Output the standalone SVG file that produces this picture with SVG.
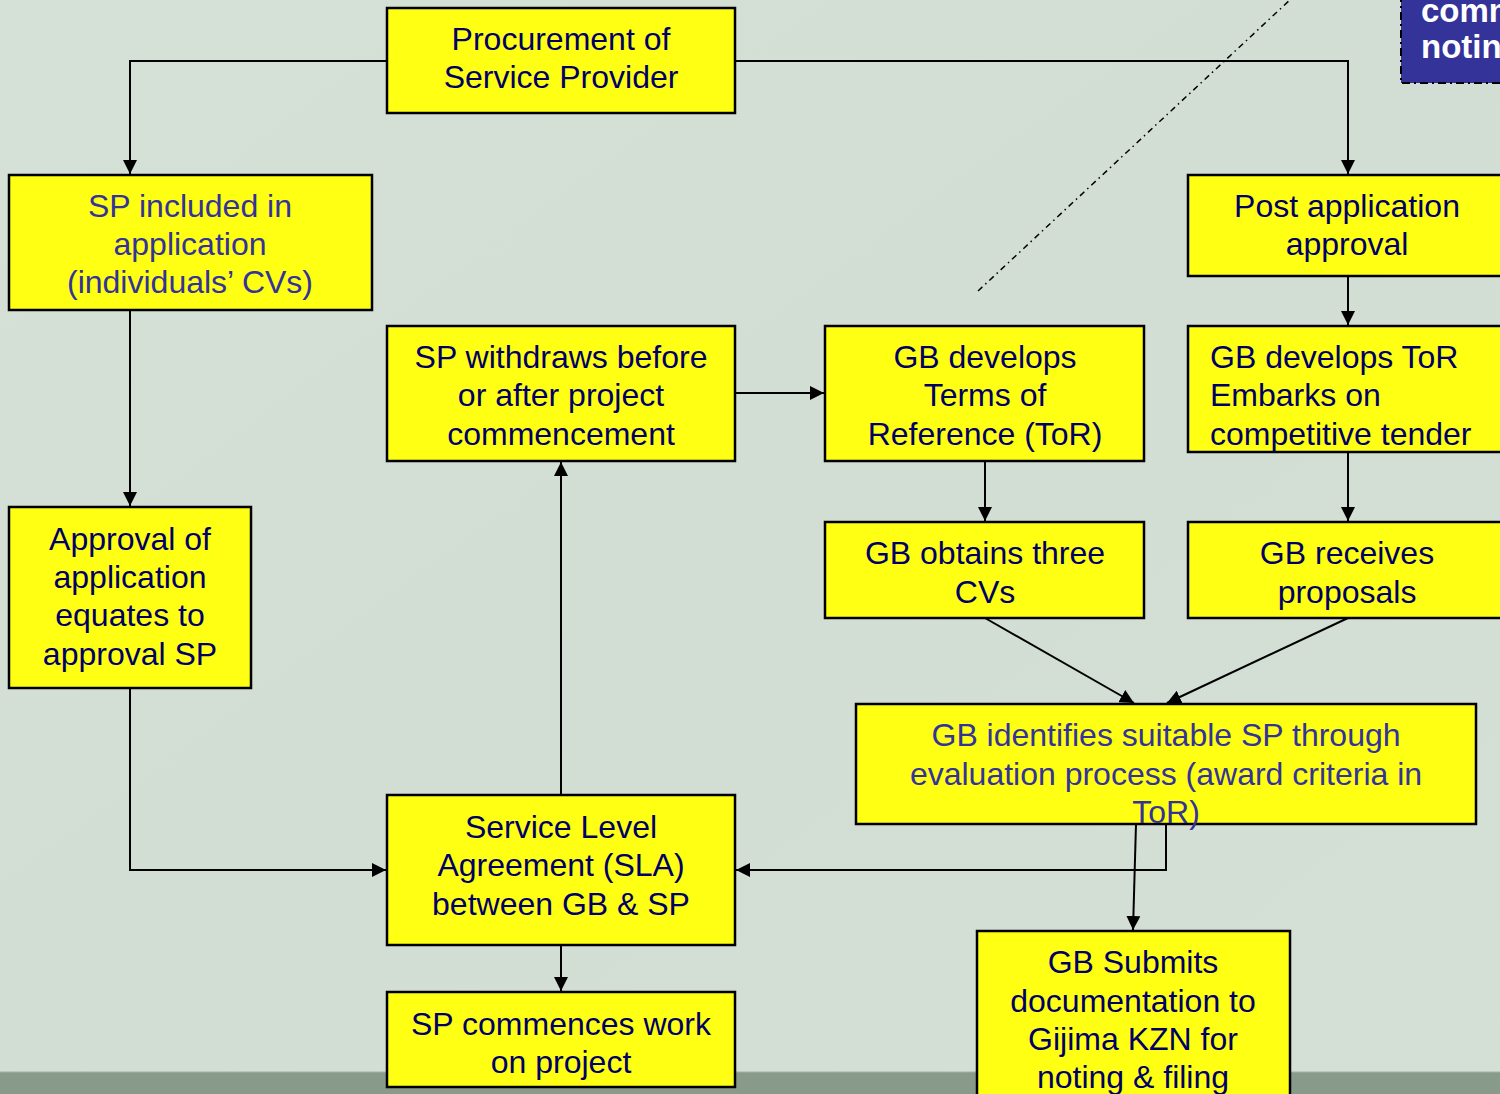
<svg xmlns="http://www.w3.org/2000/svg" width="1500" height="1094" viewBox="0 0 1500 1094">
<defs>
<marker id="ah" viewBox="0 0 14 14" refX="14" refY="7" markerWidth="14" markerHeight="14" markerUnits="userSpaceOnUse" orient="auto">
<path d="M0,0 L14,7 L0,14 Z" fill="#000"/>
</marker>
<linearGradient id="bg" x1="0" y1="0" x2="1" y2="1">
<stop offset="0" stop-color="#d5e0d7"/>
<stop offset="0.5" stop-color="#d2ddd3"/>
<stop offset="1" stop-color="#d4dfd6"/>
</linearGradient>
</defs>
<style>
.box{fill:#ffff14;stroke:#000;stroke-width:2.5}
.t{font-family:"Liberation Sans",Arial,sans-serif;font-size:32px;fill:#000066;text-anchor:middle}
.b{fill:#333399}
.l{text-anchor:start}
.c{fill:none;stroke:#000;stroke-width:2}
.w{font-family:"Liberation Sans",Arial,sans-serif;font-size:33px;font-weight:bold;fill:#fff}
</style>
<rect width="1500" height="1094" fill="url(#bg)"/>
<rect x="0" y="1072" width="1500" height="22" fill="#889a89"/>
<line x1="0" y1="1072" x2="1500" y2="1072" stroke="#a3b3a4" stroke-width="1"/>

<line x1="978" y1="291" x2="1292" y2="-2" stroke="#000" stroke-width="1.5" stroke-dasharray="6,4,1.5,4"/>

<g id="connectors">
<path class="c" d="M387,61 H130 V174" marker-end="url(#ah)"/>
<path class="c" d="M735,61 H1348 V174" marker-end="url(#ah)"/>
<path class="c" d="M1348,276 V325" marker-end="url(#ah)"/>
<path class="c" d="M130,310 V506" marker-end="url(#ah)"/>
<path class="c" d="M130,688 V870 H386" marker-end="url(#ah)"/>
<path class="c" d="M561,795 V462" marker-end="url(#ah)"/>
<path class="c" d="M561,945 V991" marker-end="url(#ah)"/>
<path class="c" d="M735,393 H824" marker-end="url(#ah)"/>
<path class="c" d="M985,461 V521" marker-end="url(#ah)"/>
<path class="c" d="M1348,452 V521" marker-end="url(#ah)"/>
<path class="c" d="M985,618 L1134,703" marker-end="url(#ah)"/>
<path class="c" d="M1348,618 L1167,703" marker-end="url(#ah)"/>
<path class="c" d="M1166,824 V870 H736" marker-end="url(#ah)"/>
<path class="c" d="M1136,824 L1133,930" marker-end="url(#ah)"/>
</g>

<g id="n-notes">
<rect x="1401" y="-10" width="120" height="93" fill="#333399" stroke="#000" stroke-width="2" stroke-dasharray="8,4,2,4"/>
<text class="w" x="1421" y="22">comm</text>
<text class="w" x="1421" y="58">notin</text>
</g>

<g id="n-procurement">
<rect class="box" x="387" y="8" width="348" height="105"/>
<text class="t" x="561" y="50">Procurement of</text>
<text class="t" x="561" y="88">Service Provider</text>
</g>

<g id="n-sp-included">
<rect class="box" x="9" y="175" width="363" height="135"/>
<text class="t b" x="190" y="217">SP included in</text>
<text class="t b" x="190" y="255">application</text>
<text class="t b" x="190" y="293">(individuals’ CVs)</text>
</g>

<g id="n-post-app">
<rect class="box" x="1188" y="175" width="330" height="101"/>
<text class="t" x="1347" y="217">Post application</text>
<text class="t" x="1347" y="255">approval</text>
</g>

<g id="n-withdraws">
<rect class="box" x="387" y="326" width="348" height="135"/>
<text class="t" x="561" y="368">SP withdraws before</text>
<text class="t" x="561" y="406">or after project</text>
<text class="t" x="561" y="445">commencement</text>
</g>

<g id="n-gb-tor">
<rect class="box" x="825" y="326" width="319" height="135"/>
<text class="t" x="985" y="368">GB develops</text>
<text class="t" x="985" y="406">Terms of</text>
<text class="t" x="985" y="445">Reference (ToR)</text>
</g>

<g id="n-gb-tender">
<rect class="box" x="1188" y="326" width="330" height="126"/>
<text class="t l" x="1210" y="368">GB develops ToR</text>
<text class="t l" x="1210" y="406">Embarks on</text>
<text class="t l" x="1210" y="445">competitive tender</text>
</g>

<g id="n-approval">
<rect class="box" x="9" y="507" width="242" height="181"/>
<text class="t" x="130" y="550">Approval of</text>
<text class="t" x="130" y="588">application</text>
<text class="t" x="130" y="626">equates to</text>
<text class="t" x="130" y="665">approval SP</text>
</g>

<g id="n-three-cvs">
<rect class="box" x="825" y="522" width="319" height="96"/>
<text class="t" x="985" y="564">GB obtains three</text>
<text class="t" x="985" y="603">CVs</text>
</g>

<g id="n-proposals">
<rect class="box" x="1188" y="522" width="330" height="96"/>
<text class="t" x="1347" y="564">GB receives</text>
<text class="t" x="1347" y="603">proposals</text>
</g>

<g id="n-identifies">
<rect class="box" x="856" y="704" width="620" height="120"/>
<text class="t b" x="1166" y="746">GB identifies suitable SP through</text>
<text class="t b" x="1166" y="785">evaluation process (award criteria in</text>
<text class="t b" x="1166" y="823">ToR)</text>
</g>

<g id="n-sla">
<rect class="box" x="387" y="795" width="348" height="150"/>
<text class="t" x="561" y="838">Service Level</text>
<text class="t" x="561" y="876">Agreement (SLA)</text>
<text class="t" x="561" y="915">between GB &amp; SP</text>
</g>

<g id="n-commences">
<rect class="box" x="387" y="992" width="348" height="95"/>
<text class="t" x="561" y="1035">SP commences work</text>
<text class="t" x="561" y="1073">on project</text>
</g>

<g id="n-submits">
<rect class="box" x="977" y="931" width="313" height="180"/>
<text class="t" x="1133" y="973">GB Submits</text>
<text class="t" x="1133" y="1012">documentation to</text>
<text class="t" x="1133" y="1050">Gijima KZN for</text>
<text class="t" x="1133" y="1088">noting &amp; filing</text>
</g>
</svg>
